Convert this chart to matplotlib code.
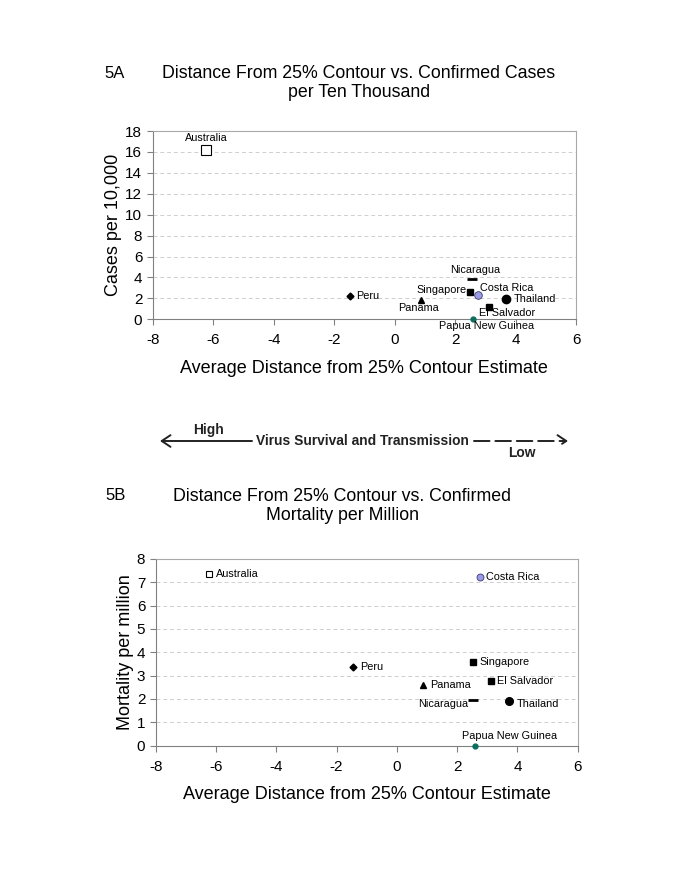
import matplotlib
matplotlib.use("Agg")
import matplotlib.pyplot as plt
from matplotlib.patches import FancyArrowPatch

plt.rcParams['font.family'] = ['Liberation Sans', 'DejaVu Sans']
plt.rcParams['axes.unicode_minus'] = False

COUNTRIES = ["Australia", "Peru", "Panama", "Nicaragua", "Singapore",
             "Costa Rica", "Thailand", "El Salvador", "Papua New Guinea"]

# 5A: distance estimate vs cases per ten thousand
dist_a = [-6.24, -1.48, 0.87, 2.55, 2.51, 2.76, 3.70, 3.12, 2.58]
cases_per_10k = [16.2, 2.26, 1.85, 3.82, 2.58, 2.32, 1.91, 1.15, 0.0]

# 5B: distance estimate vs mortality per million
dist_b = [-6.23, -1.46, 0.88, 2.54, 2.54, 2.77, 3.72, 3.14, 2.60]
mortality_per_million = [7.37, 3.37, 2.61, 1.96, 3.60, 7.22, 1.93, 2.77, 0.0]

MARKERS = {
    "Australia": dict(marker='s', ms=7, mfc='white', mec='black', mew=0.8),
    "Peru": dict(marker='D', ms=3.5, mfc='black', mec='black'),
    "Panama": dict(marker='^', ms=4.5, mfc='black', mec='black'),
    "Nicaragua": dict(marker='_', ms=7, mfc='black', mec='black', mew=2),
    "Singapore": dict(marker='s', ms=4.2, mfc='black', mec='black'),
    "Costa Rica": dict(marker='o', ms=5.5, mfc='#9a9ae6', mec='#3a3a70', mew=0.6),
    "Thailand": dict(marker='o', ms=6, mfc='black', mec='black'),
    "El Salvador": dict(marker='s', ms=4.2, mfc='black', mec='black'),
    "Papua New Guinea": dict(marker='o', ms=3.5, mfc='#0a6e5e', mec='#0a6e5e'),
}
# panel B draws a few markers a little smaller
SIZES_B = {"Australia": 5, "Costa Rica": 5, "Thailand": 5.5, "Peru": 3.5}

# label offsets in pixels (dx, dy, ha)
LABELS_A = {
    "Australia": (0, 12, 'center'),
    "Peru": (6, 0, 'left'),
    "Panama": (-2, -8, 'center'),
    "Nicaragua": (3, 9, 'center'),
    "Singapore": (-4, 2, 'right'),
    "Costa Rica": (2, 7, 'left'),
    "Thailand": (7, 0, 'left'),
    "El Salvador": (-10, -6, 'left'),
    "Papua New Guinea": (14, -7, 'center'),
}
LABELS_B = {
    "Australia": (7, 0, 'left'),
    "Peru": (7, 0, 'left'),
    "Panama": (7, 0, 'left'),
    "Nicaragua": (-5, -4, 'right'),
    "Singapore": (6, 0, 'left'),
    "Costa Rica": (6, 0, 'left'),
    "Thailand": (8, -3, 'left'),
    "El Salvador": (6, 0, 'left'),
    "Papua New Guinea": (34, 10, 'center'),
}


def style_axes(ax, ymax, ystep):
    ax.set_xlim(-8, 6)
    ax.set_ylim(0, ymax)
    ax.set_xticks(range(-8, 7, 2))
    ax.set_yticks(range(0, ymax + 1, ystep))
    ax.tick_params(labelsize=11, length=4, color='#808080', direction='out')
    ax.tick_params(axis='x', pad=6)
    for side in ['left', 'bottom']:
        ax.spines[side].set_color('#808080')
    for side in ['top', 'right']:
        ax.spines[side].set_color('#a8a8a8')
    ax.yaxis.grid(True, linestyle=(0, (4, 3)), color='#cfcfcf', lw=0.7)
    ax.set_axisbelow(True)
    ax.set_xlabel("Average Distance from 25% Contour Estimate", fontsize=13, labelpad=9)


def draw_points(ax, xs, ys, labels, sizes=None):
    for name, x, y in zip(COUNTRIES, xs, ys):
        style = dict(MARKERS[name])
        if sizes and name in sizes:
            style['ms'] = sizes[name]
        ax.plot([x], [y], ls='none', clip_on=False, zorder=3, **style)
        dx, dy, ha = labels[name]
        ax.annotate(name, (x, y), xytext=(dx, dy), textcoords='offset pixels',
                    ha=ha, va='center', fontsize=7.8, zorder=4)


fig = plt.figure(figsize=(6.85, 8.86), dpi=100)

# Panel A
ax1 = fig.add_axes([0.2229, 0.6396, 0.618, 0.2125])
style_axes(ax1, 18, 2)
draw_points(ax1, dist_a, cases_per_10k, LABELS_A)
ax1.set_ylabel("Cases per 10,000", fontsize=13, labelpad=2)
fig.text(115 / 685, 1 - 73 / 886, "5A", fontsize=12, ha='center', va='center')
fig.text(359 / 685, 1 - 83 / 886, "Distance From 25% Contour vs. Confirmed Cases\nper Ten Thousand",
         fontsize=12.8, ha='center', va='center', linespacing=1.2)

# Panel B
ax2 = fig.add_axes([0.2273, 0.1584, 0.616, 0.2107])
style_axes(ax2, 8, 1)
draw_points(ax2, dist_b, mortality_per_million, LABELS_B, SIZES_B)
ax2.set_ylabel("Mortality per million", fontsize=13, labelpad=2)
fig.text(116 / 685, 1 - 495 / 886, "5B", fontsize=12, ha='center', va='center')
fig.text(342 / 685, 1 - 506 / 886, "Distance From 25% Contour vs. Confirmed\nMortality per Million",
         fontsize=12.8, ha='center', va='center', linespacing=1.2)

# Middle arrow legend
ay = 1 - 441 / 886
arrow_kw = dict(transform=fig.transFigure, arrowstyle='->,head_length=0.45,head_width=0.3',
                mutation_scale=14, lw=1.4, color='#222222', shrinkA=0, shrinkB=0)
fig.add_artist(FancyArrowPatch((252 / 685, ay), (160 / 685, ay), **arrow_kw))
fig.add_artist(FancyArrowPatch((474 / 685, ay), (568 / 685, ay),
                               linestyle=(0, (8, 3)), **arrow_kw))
fig.text(362 / 685, ay, "Virus Survival and Transmission", fontsize=9.9,
         fontweight='bold', ha='center', va='center', color='#222222')
fig.text(208 / 685, 1 - 430 / 886, "High", fontsize=9.9, fontweight='bold',
         ha='center', va='center', color='#222222')
fig.text(522 / 685, 1 - 453 / 886, "Low", fontsize=9.9, fontweight='bold',
         ha='center', va='center', color='#222222')

fig.savefig("out.png", dpi=100)
